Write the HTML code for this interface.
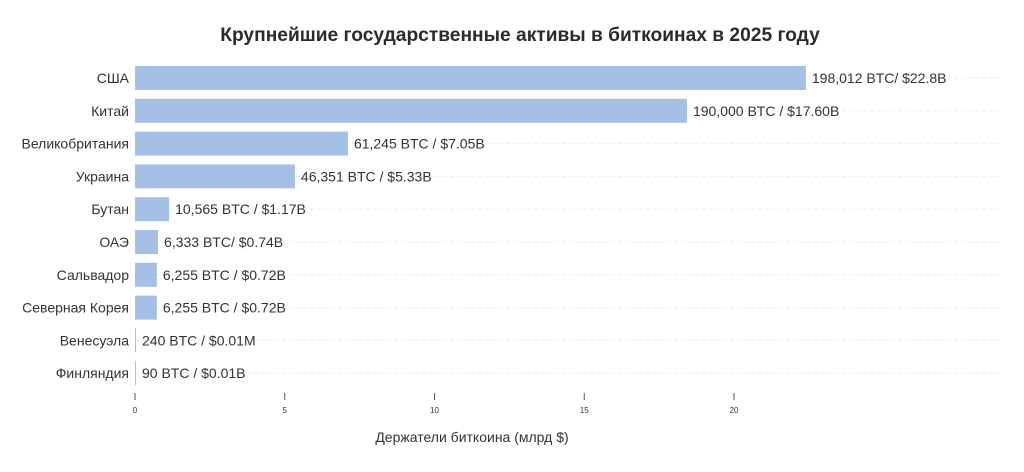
<!DOCTYPE html>
<html><head><meta charset="utf-8"><style>
body{margin:0;background:#fff;}
svg text{font-family:"Liberation Sans","DejaVu Sans",sans-serif;}
</style></head><body>
<svg id="chart" width="1024" height="467" xmlns="http://www.w3.org/2000/svg">
<text x="520" y="41" text-anchor="middle" font-size="19.2" font-weight="bold" fill="#2b2b2b">Крупнейшие государственные активы в биткоинах в 2025 году</text>
<g id="grid"></g><g id="bars"></g><g id="axis"></g>
<text x="472" y="442" text-anchor="middle" font-size="14" fill="#333">Держатели биткоина (млрд $)</text>
</svg>
<script>
const categories=["США","Китай","Великобритания","Украина","Бутан","ОАЭ","Сальвадор","Северная Корея","Венесуэла","Финляндия"];
const values=[22.4,18.43,7.11,5.34,1.14,0.77,0.73,0.73,0.03,0.03];
const valueLabels=["198,012 BTC/ $22.8B","190,000 BTC / $17.60B","61,245 BTC / $7.05B","46,351 BTC / $5.33B","10,565 BTC / $1.17B","6,333 BTC/ $0.74B","6,255 BTC / $0.72B","6,255 BTC / $0.72B","240 BTC / $0.01M","90 BTC / $0.01B"];
const ticks=[0,5,10,15,20];
const NS="http://www.w3.org/2000/svg";
const x=v=>135+v*29.95;
const y=i=>78+i*32.8;
function mk(t,a,p){const e=document.createElementNS(NS,t);for(const k in a)e.setAttribute(k,a[k]);p.appendChild(e);return e;}
const G=document.getElementById('grid'),B=document.getElementById('bars'),A=document.getElementById('axis');
categories.forEach((c,i)=>{
  const gl=mk('line',{x1:135,x2:1000,y1:y(i),y2:y(i),stroke:'#eeeeee','stroke-dasharray':'4,3','stroke-width':1},G);
  
  
  const w=Math.max(1,x(values[i])-x(0));
  const r=mk('rect',{x:x(0),y:y(i)-12,width:w,height:24,fill:'#a4c0e7'},B);
  
  
  const lt=mk('text',{x:129,y:y(i)+5,'text-anchor':'end','font-size':14,fill:'#333'},B);
  lt.textContent=c;
  
  
  const vt=mk('text',{x:x(0)+w+6,y:y(i)+5,'font-size':14,fill:'#333'},B);
  vt.textContent=valueLabels[i];
  
  
});
ticks.forEach(t=>{
  const l=mk('line',{x1:x(t),x2:x(t),y1:393,y2:400,stroke:'#555','stroke-width':1},A);
  
  
  const tt=mk('text',{x:x(t),y:413,'text-anchor':'middle','font-size':8,fill:'#333'},A);
  tt.textContent=t;
  
  
});
</script>
</body></html>
